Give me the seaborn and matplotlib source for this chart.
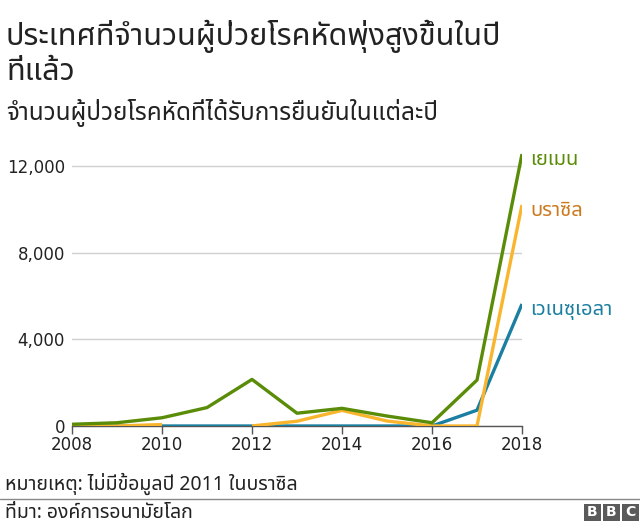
import matplotlib
matplotlib.use("Agg")
import matplotlib.pyplot as plt
from matplotlib import font_manager
from matplotlib.ft2font import FT2Font
from matplotlib.patches import Rectangle
import seaborn as sns
import pandas as pd
import numpy as np

# ---------------- data ----------------
years = [2008, 2009, 2010, 2011, 2012, 2013, 2014, 2015, 2016, 2017, 2018]
yemen = [80, 150, 380, 850, 2150, 590, 815, 460, 150, 2120, 12550]
brazil = [0, 0, 68, np.nan, 2, 220, 720, 230, 0, 0, 10200]
venezuela = [0, 0, 0, 0, 0, 0, 0, 0, 0, 730, 5630]
countries = ["เวเนซุเอลา", "บราซิล", "เยเมน"]
y_ticks = [0, 4000, 8000, 12000]
x_ticks = [2008, 2010, 2012, 2014, 2016, 2018]

title_lines = ["ประเทศที่จำนวนผู้ป่วยโรคหัดพุ่งสูงขึ้นในปี", "ที่แล้ว"]
subtitle = "จำนวนผู้ป่วยโรคหัดที่ได้รับการยืนยันในแต่ละปี"
note = "หมายเหตุ: ไม่มีข้อมูลปี 2011 ในบราซิล"
source = "ที่มา: องค์การอนามัยโลก"

line_colors = {"เยเมน": "#5a8c08", "บราซิล": "#fab52e", "เวเนซุเอลา": "#1a7fa0"}
label_colors = {"เยเมน": "#5a8c08", "บราซิล": "#cc7a1e", "เวเนซุเอลา": "#1a7fa0"}
series = {"เยเมน": yemen, "บราซิล": brazil, "เวเนซุเอลา": venezuela}

# ---------------- fonts ----------------
def find_thai_font():
    prefs = ["Noto Sans Thai", "Noto Sans Thai UI", "Noto Sans Thai Looped", "Sarabun",
             "Loma", "Garuda", "Kinnari", "Norasi", "Tlwg Typo", "Waree", "Umpush",
             "Laksaman", "Noto Serif Thai"]
    found = []
    seen = set()
    for f in font_manager.fontManager.ttflist:
        if f.fname in seen:
            continue
        seen.add(f.fname)
        try:
            cm = FT2Font(f.fname).get_charmap()
        except Exception:
            continue
        if 0x0E01 in cm and 0x0E48 in cm:
            found.append(f.name)
    for p in prefs:
        if p in found:
            return p
    return found[0] if found else None

sns.set_style("white")
thai = find_thai_font()
fams = ([thai] if thai else []) + ["DejaVu Sans"]
plt.rcParams["font.family"] = fams

# ---------------- figure ----------------
W, H = 640, 524
fig = plt.figure(figsize=(W / 100, H / 100), dpi=100)
ymax = 13000
top_px = 426 - ymax * 260 / 12000
ax = fig.add_axes([72 / W, (H - 426) / H, 450 / W, (426 - top_px) / H])

rows = []
for c in countries:
    vals = series[c]
    seg = 0
    for yr, v in zip(years, vals):
        if v is None or (isinstance(v, float) and np.isnan(v)):
            seg += 1
            continue
        rows.append({"country": c, "year": yr, "cases": v, "seg": seg})
df = pd.DataFrame(rows)

for c in countries:
    d = df[df["country"] == c]
    sns.lineplot(data=d, x="year", y="cases", units="seg", estimator=None,
                 color=line_colors[c], lw=2.4, ax=ax, legend=False, zorder=3,
                 solid_capstyle="butt")
    last_year = d["year"].iloc[-1]
    last_val = d["cases"].iloc[-1]
    ax.annotate(c, xy=(last_year, last_val), xytext=(6, -4.5), textcoords="offset points",
                color=label_colors[c], fontsize=14.5, va="center", ha="left",
                annotation_clip=False)

ax.set_xlim(2008, 2018)
ax.set_ylim(0, ymax)
ax.set_xticks(x_ticks)
ax.set_xticklabels([str(t) for t in x_ticks], family="DejaVu Sans")
ax.set_yticks(y_ticks)
ax.set_yticklabels([f"{t:,}" for t in y_ticks], family="DejaVu Sans")
ax.set_xlabel("")
ax.set_ylabel("")
ax.grid(axis="y", color="#d0d0d0", lw=1)
ax.grid(axis="x", visible=False)
for s in ["top", "right", "left"]:
    ax.spines[s].set_visible(False)
ax.spines["bottom"].set_color("#555555")
ax.spines["bottom"].set_linewidth(1)
ax.tick_params(axis="x", length=6, width=1, color="#555555", labelsize=12,
               labelcolor="#222222", pad=1, direction="out", bottom=True)
ax.tick_params(axis="y", length=0, labelsize=12, labelcolor="#222222", pad=5)

# ---------------- texts ----------------
def ftext(x_px, base_px, s, size, **kw):
    fig.text(x_px / W, 1 - base_px / H, s, fontsize=size, color="#222222",
             va="baseline", ha="left", **kw)

ftext(6, 45, title_lines[0], 22)
ftext(6, 80, title_lines[1], 22)
ftext(6, 120, subtitle, 17.5)
ftext(5, 490, note, 14)
fig.add_artist(plt.Line2D([0, 1], [1 - 499 / H, 1 - 499 / H], color="#888888", lw=1,
                          transform=fig.transFigure))
ftext(5, 518, source, 14)

# BBC logo
for i, letter in enumerate("BBC"):
    x0 = 584 + i * 19
    fig.add_artist(Rectangle((x0 / W, 1 - 521 / H), 17 / W, 17 / H, transform=fig.transFigure,
                             color="#5a5a5a", lw=0))
    fig.text((x0 + 8.5) / W, 1 - 512.5 / H, letter, fontsize=10, fontweight="bold",
             color="white", ha="center", va="center", family="DejaVu Sans")

fig.savefig("out.png", dpi=100)
